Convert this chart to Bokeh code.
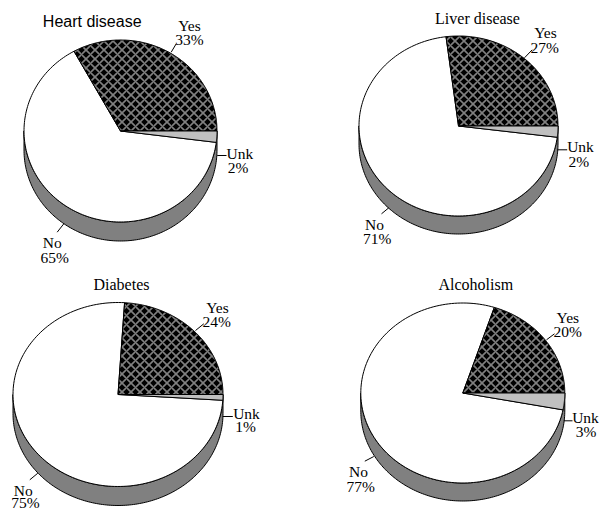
import numpy as np
from bokeh.core.properties import value
from bokeh.embed import file_html
from bokeh.models import Range1d
from bokeh.plotting import figure
from bokeh.resources import INLINE

# Survey results: share of respondents per answer, in percent
titles = ["Heart disease", "Liver disease", "Diabetes", "Alcoholism"]
yes_pct = [33, 27, 24, 20]
no_pct = [65, 71, 75, 77]
unk_pct = [2, 2, 1, 3]

# Pie layout in page pixels: centre x, centre y, radius x, radius y, wall depth
pie_boxes = [
    (120.0, 130.5, 96.5, 91.0, 19.0),
    (458.0, 125.5, 99.5, 90.0, 18.0),
    (117.5, 394.0, 105.0, 92.0, 19.0),
    (462.3, 392.5, 102.0, 90.0, 18.0),
]
title_pos = [(91.7, 21.2), (477.0, 17.7), (121.0, 284.4), (475.3, 284.4)]
title_fonts = ["Liberation Sans", "Liberation Serif", "Liberation Serif", "Liberation Serif"]

# Label anchors: (name x, name y, percent x, percent y)
yes_pos = [(189.0, 24.5, 189.0, 38.8), (545.0, 32.1, 544.3, 47.1),
           (217.0, 306.5, 216.3, 321.1), (567.3, 317.1, 567.3, 331.1)]
unk_pos = [(239.3, 152.8, 237.7, 166.5), (580.0, 146.1, 578.3, 160.5),
           (246.0, 412.8, 245.0, 426.1), (585.0, 417.1, 585.7, 431.1)]
no_pos = [(51.7, 242.1, 54.3, 256.5), (374.0, 223.8, 376.7, 238.1),
          (22.7, 489.5, 25.0, 501.5), (358.0, 470.5, 360.3, 485.5)]

# Leader ticks: (x0, y0, x1, y1)
yes_ticks = [(170.7, 51.7, 175.7, 43.3), (524.0, 57.3, 531.7, 49.3),
             (195.0, 330.0, 203.3, 323.3), (546.0, 339.3, 554.0, 333.3)]
unk_ticks = [(216.7, 155.0, 226.0, 155.0), (556.7, 149.3, 566.7, 149.3),
             (222.3, 416.0, 232.3, 416.0), (563.3, 420.3, 572.0, 420.3)]
no_ticks = [(56.7, 231.7, 63.3, 223.3), (388.3, 207.3, 381.0, 213.3),
            (37.3, 472.7, 29.3, 479.3), (373.3, 456.0, 364.3, 460.7)]

WALL = "#808080"
UNK = "#c0c0c0"
LATTICE = "#808080"


def sector(box, start_pct, end_pct):
    """Outline of a slice; percentages run counter-clockwise from due east."""
    cx, cy, rx, ry, _ = box
    t = np.radians(np.linspace(start_pct, end_pct, 160) * 3.6)
    return ([cx, *(cx + rx * np.cos(t)), cx], [cy, *(cy - ry * np.sin(t)), cy])


def wall(box):
    """Visible lower rim of the disc, extruded downwards."""
    cx, cy, rx, ry, depth = box
    t = np.radians(np.linspace(180, 360, 160))
    x = cx + rx * np.cos(t)
    y = cy - ry * np.sin(t)
    return ([*x, *x[::-1]], [*y, *(y[::-1] + depth)])


p = figure(width=599, height=510, output_backend="svg", toolbar_location=None,
           x_range=Range1d(0, 599), y_range=Range1d(510, 0),
           min_border=0, outline_line_color=None)
p.axis.visible = False
p.grid.visible = False

for i, box in enumerate(pie_boxes):
    wx, wy = wall(box)
    p.patch(wx, wy, fill_color=WALL, line_color="black", line_width=1)

    nx, ny = sector(box, yes_pct[i], yes_pct[i] + no_pct[i])
    p.patch(nx, ny, fill_color="white", line_color="black", line_width=1)

    yx, yy = sector(box, 0, yes_pct[i])
    p.patch(yx, yy, fill_color="black", line_color="black", line_width=1,
            hatch_pattern="diagonal_cross", hatch_color=LATTICE,
            hatch_scale=9, hatch_weight=1.6)

    ux, uy = sector(box, -unk_pct[i], 0)
    p.patch(ux, uy, fill_color=UNK, line_color="black", line_width=1)

    for t in (yes_ticks[i], unk_ticks[i], no_ticks[i]):
        p.line([t[0], t[2]], [t[1], t[3]], line_color="black", line_width=1)

    p.text([title_pos[i][0]], [title_pos[i][1]], text=[titles[i]],
           text_font=value(title_fonts[i]), text_font_size="16px",
           text_align="center", text_baseline="middle", text_color="black")

    for name, pct, pos in (("Yes", yes_pct[i], yes_pos[i]),
                           ("Unk", unk_pct[i], unk_pos[i]),
                           ("No", no_pct[i], no_pos[i])):
        p.text([pos[0], pos[2]], [pos[1], pos[3]], text=[name, f"{pct}%"],
               text_font=value("Liberation Serif"), text_font_size="15.5px",
               text_align="center", text_baseline="middle", text_color="black")

open("out.html", "w").write(file_html(p, INLINE))
